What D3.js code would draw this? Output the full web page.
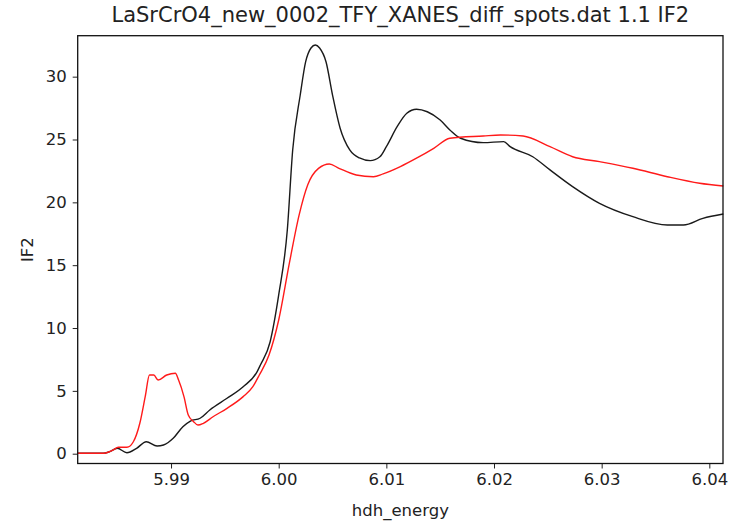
<!DOCTYPE html>
<html>
<head>
<meta charset="utf-8">
<script src="https://cdn.jsdelivr.net/npm/d3@7"></script>
<style>
  body { margin: 0; background: #fff; }
  svg text { font-family: "DejaVu Sans", sans-serif; fill: #222; }
</style>
</head>
<body>
<svg id="chart" width="739" height="524"></svg>
<script>
// data
let title = "LaSrCrO4_new_0002_TFY_XANES_diff_spots.dat 1.1 IF2";
let x_ticks = [5.99, 6.00, 6.01, 6.02, 6.03, 6.04];
let y_ticks = [0, 5, 10, 15, 20, 25, 30];

let black_energy = [5.9813, 5.9837, 5.9843, 5.9850, 5.9859, 5.9868, 5.9877, 5.9887, 5.9893, 5.9902,
  5.9911, 5.9918, 5.9927, 5.9936, 5.9952, 5.9967, 5.9980, 5.9983, 5.9992, 6.0000,
  6.0008, 6.0013, 6.0020, 6.0025, 6.0030, 6.0034, 6.0038, 6.0044, 6.0050, 6.0057,
  6.0066, 6.0075, 6.0085, 6.0094, 6.0100, 6.0110, 6.0119, 6.0128, 6.0138, 6.0150,
  6.0159, 6.0169, 6.0190, 6.0209, 6.0215, 6.0236, 6.0252, 6.0273, 6.0298, 6.0329,
  6.0361, 6.0376, 6.0394, 6.0413];
let black_if2 = [0.03, 0.03, 0.16, 0.43, 0.08, 0.43, 0.95, 0.61, 0.69, 1.23,
  2.15, 2.60, 2.82, 3.48, 4.41, 5.33, 6.53, 7.06, 8.89, 12.63,
  17.80, 24.17, 28.54, 31.17, 32.28, 32.52, 32.28, 31.17, 28.54, 25.92,
  24.17, 23.53, 23.32, 23.63, 24.43, 26.02, 27.09, 27.41, 27.21, 26.55,
  25.76, 25.10, 24.75, 24.83, 24.43, 23.63, 22.58, 21.25, 19.92, 18.86,
  18.20, 18.20, 18.73, 19.07];

let red_energy = [5.9813, 5.9837, 5.9846, 5.9851, 5.9859, 5.9865, 5.9871, 5.9876, 5.9880, 5.9884,
  5.9888, 5.9896, 5.9904, 5.9907, 5.9912, 5.9916, 5.9921, 5.9925, 5.9930, 5.9939,
  5.9952, 5.9967, 5.9976, 5.9982, 5.9991, 6.0000, 6.0010, 6.0019, 6.0027,
  6.0037, 6.0047, 6.0056, 6.0072, 6.0088, 6.0097, 6.0113, 6.0128, 6.0144, 6.0159,
  6.0190, 6.0206, 6.0227, 6.0252, 6.0273, 6.0298, 6.0329, 6.0361, 6.0391, 6.0413];
let red_if2 = [0.03, 0.03, 0.29, 0.51, 0.51, 0.95, 2.42, 4.54, 6.26, 6.26,
  5.86, 6.26, 6.40, 5.86, 4.54, 3.08, 2.55, 2.28, 2.42, 2.94,
  3.61, 4.54, 5.33, 6.26, 7.85, 10.64, 15.20, 19.00, 21.40,
  22.70, 23.05, 22.71, 22.18, 22.04, 22.26, 22.84, 23.51, 24.30, 25.10,
  25.28, 25.36, 25.28, 24.43, 23.63, 23.24, 22.71, 22.04, 21.52, 21.30];

let plot_left = 77.7, plot_right = 723, plot_top = 35.7, plot_bottom = 463.5;

let svg = d3.select('#chart');

let x = d3.scaleLinear().domain([5.98133, 6.04127]).range([plot_left, plot_right]);
let y = d3.scaleLinear().domain([-0.78, 33.26]).range([plot_bottom, plot_top]);

let line = d3.line()
  .x(d => x(d[0]))
  .y(d => y(d[1]))
  .curve(d3.curveMonotoneX);

let plot = svg.append('g');
plot.append('path')
  .datum(d3.zip(black_energy, black_if2))
  .attr('d', line).attr('fill', 'none')
  .attr('stroke', '#1a1a1a').attr('stroke-width', 1.4);
plot.append('path')
  .datum(d3.zip(red_energy, red_if2))
  .attr('d', line).attr('fill', 'none')
  .attr('stroke', '#ff1a1a').attr('stroke-width', 1.4);

// axes
let x_axis = svg.append('g').attr('transform', 'translate(0,' + plot_bottom + ')')
  .call(d3.axisBottom(x).tickValues(x_ticks).tickFormat(d3.format('.2f')).tickSize(5).tickPadding(5).tickSizeOuter(0));
let y_axis = svg.append('g').attr('transform', 'translate(' + plot_left + ',0)')
  .call(d3.axisLeft(y).tickValues(y_ticks).tickSize(5).tickPadding(6).tickSizeOuter(0));
[x_axis, y_axis].forEach(a => {
  a.select('.domain').remove();
  a.selectAll('line').attr('stroke', '#222');
  a.selectAll('text').attr('font-size', 16.5).attr('fill', '#222')
    .style('font-family', '"DejaVu Sans", sans-serif');
});

svg.append('rect')
  .attr('x', plot_left).attr('y', plot_top)
  .attr('width', plot_right - plot_left).attr('height', plot_bottom - plot_top)
  .attr('fill', 'none').attr('stroke', '#111').attr('stroke-width', 1.3);

svg.append('text').attr('x', (plot_left + plot_right) / 2).attr('y', 22)
  .attr('text-anchor', 'middle').attr('font-size', 21).text(title);
svg.append('text').attr('x', (plot_left + plot_right) / 2).attr('y', 516)
  .attr('text-anchor', 'middle').attr('font-size', 16.5).text('hdh_energy');
svg.append('text').attr('transform', 'translate(33,' + ((plot_top + plot_bottom) / 2) + ') rotate(-90)')
  .attr('text-anchor', 'middle').attr('font-size', 16.5).text('IF2');
</script>
</body>
</html>
